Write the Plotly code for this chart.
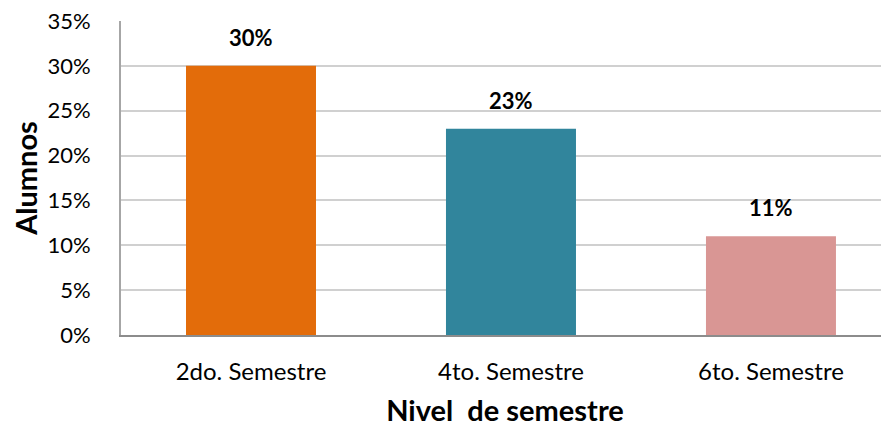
import plotly.graph_objects as go

categories = ["2do. Semestre", "4to. Semestre", "6to. Semestre"]
values = [0.30, 0.23, 0.11]
labels = ["30%", "23%", "11%"]
colors = ["#E36C0A", "#31859C", "#D99694"]
y_ticks = [0, 0.05, 0.10, 0.15, 0.20, 0.25, 0.30, 0.35]

FONT = "Lato, Calibri, Carlito, sans-serif"

fig = go.Figure()
fig.add_trace(
    go.Bar(
        x=categories,
        y=values,
        marker_color=colors,
        marker_line_width=0,
        hoverinfo="skip",
    )
)

# value labels sit a little above each bar, as in the original
for cat, val, lab in zip(categories, values, labels):
    fig.add_annotation(
        x=cat,
        y=val,
        text="<b>" + lab + "</b>",
        showarrow=False,
        yanchor="bottom",
        yshift=13,
        font=dict(family=FONT, size=22, color="#000000"),
    )

# page body has an 8px margin, so the figure is sized to fill the rest
fig.update_layout(
    width=881,
    height=419,
    margin=dict(l=113, r=0, t=13, b=92),
    paper_bgcolor="white",
    plot_bgcolor="white",
    bargap=0.5,
    showlegend=False,
    font=dict(family=FONT, size=22, color="#000000"),
)
fig.update_xaxes(
    range=[-0.5, 2.454],
    showline=True,
    linecolor="#8c8c8c",
    linewidth=2,
    showgrid=False,
    ticks="",
    ticklabelstandoff=14,
    tickfont=dict(size=24),
    title=dict(
        text="<b>Nivel&nbsp; de semestre</b>",
        font=dict(size=29),
        standoff=20,
    ),
)
fig.update_yaxes(
    range=[0, 0.35],
    tickvals=y_ticks,
    tickformat=".0%",
    ticklabeloverflow="allow",
    showline=True,
    linecolor="#a6a6a6",
    linewidth=2,
    showgrid=True,
    gridcolor="#d0d0d0",
    gridwidth=1.5,
    zeroline=False,
    ticks="",
    ticklabelstandoff=24,
    tickfont=dict(size=22),
    title=dict(
        text="<b>Alumnos</b>",
        font=dict(size=29),
        standoff=10,
    ),
)

fig.write_html("out.html")
